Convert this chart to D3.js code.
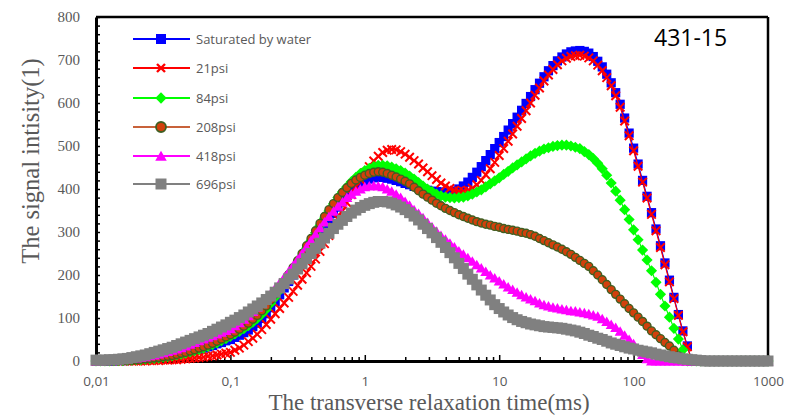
<!DOCTYPE html>
<html><head><meta charset="utf-8">
<script src="https://cdn.jsdelivr.net/npm/d3@7"></script>
<style>body{margin:0;background:#fff;} svg{display:block}</style>
</head><body><svg id="c" width="790" height="420"></svg>
<script>
// T2 grid (ms): mantissas within a decade and the decades
const mantissa = [1.000,1.080,1.166,1.259,1.359,1.468,1.585,1.711,1.848,1.995,2.154,2.326,2.512,2.712,2.929,3.162,3.415,3.687,3.981,4.299,4.642,5.012,5.412,5.843,6.310,6.813,7.356,7.943,8.577,9.261];
const decades = [0.01,0.1,1,10,100];

const seriesNames = ["Saturated by water","21psi","84psi","208psi","418psi","696psi"];

const saturated = [
0,0,0,0,0,1,1,1,2,2,
3,4,5,6,8,9,11,13,15,17,
19,22,25,27,30,33,36,40,43,47,
50,55,60,66,72,80,88,99,110,124,
138,154,170,185,200,215,230,246,262,278,
295,312,328,343,358,372,385,396,405,412,
418,423,426,428,427,425,423,420,417,413,
410,406,403,400,397,395,394,393,392,393,
395,400,407,416,427,439,452,466,480,494,
508,522,537,552,567,583,599,615,631,646,
661,675,687,698,707,714,719,721,722,720,
716,708,697,684,667,647,624,597,565,530,
495,458,420,383,345,307,268,228,188,148,
108,70,35,0,0,0,0,0,0,0,
0,0,0,0,0,0,0,0,0,0,
0];
const psi21 = [
0,0,0,0,0,0,0,0,0,0,
0,0,1,1,1,2,2,3,3,4,
5,6,7,8,9,11,12,14,16,18,
20,25,30,37,45,53,62,73,85,97,
110,122,135,148,162,176,190,205,220,237,
255,273,292,311,330,349,368,387,405,422,
438,452,465,476,485,490,492,491,487,481,
474,466,458,449,440,431,422,414,407,401,
397,395,395,397,402,410,420,433,447,462,
478,494,511,528,546,564,582,600,618,635,
651,665,678,689,698,704,708,710,711,709,
705,698,688,675,659,640,617,590,558,524,
489,453,416,379,341,303,264,224,184,145,
106,68,33,0,0,0,0,0,0,0,
0,0,0,0,0,0,0,0,0,0,
0];
const psi84 = [
0,0,0,0,1,1,1,2,2,3,
3,4,5,6,7,9,10,12,14,16,
18,21,24,27,30,34,38,42,47,52,
57,63,69,75,82,90,99,109,120,134,
148,164,180,196,212,228,245,262,280,298,
315,332,349,365,380,393,405,417,427,436,
443,448,452,455,455,454,451,447,443,437,
430,423,415,407,400,394,388,384,381,380,
379,380,381,384,388,393,398,405,412,419,
426,434,441,449,456,463,470,477,483,488,
493,496,499,501,502,502,500,497,494,487,
480,471,460,447,432,414,395,374,352,329,
305,282,258,235,210,183,155,128,102,76,
51,26,0,0,0,0,0,0,0,0,
0,0,0,0,0,0,0,0,0,0,
0];
const psi208 = [
0,0,0,0,1,1,1,2,2,3,
4,5,6,7,8,10,11,13,15,18,
20,23,26,30,33,37,41,46,51,56,
61,67,74,81,88,97,106,117,128,142,
156,170,185,201,217,233,250,268,285,303,
320,336,352,366,380,392,403,413,421,427,
432,436,439,440,439,436,432,428,423,418,
412,404,396,388,381,374,367,361,355,350,
345,340,336,332,328,324,321,318,316,313,
311,308,306,304,302,299,297,294,290,285,
280,275,270,265,260,254,248,241,234,227,
220,210,200,189,178,166,155,144,133,122,
112,102,92,81,70,61,52,43,35,25,
12,0,0,0,0,0,0,0,0,0,
0,0,0,0,0,0,0,0,0,0,
0];
const psi418 = [
0,0,1,1,2,3,4,5,6,7,
9,10,12,14,16,19,22,25,28,31,
35,39,43,47,51,55,59,63,67,71,
75,82,89,97,105,115,125,135,145,157,
170,182,195,208,222,236,250,265,280,295,
310,323,336,348,360,370,380,388,395,400,
405,407,408,407,405,400,395,388,380,371,
362,352,343,333,322,312,302,292,283,274,
265,256,248,240,232,224,216,208,200,193,
186,179,172,166,160,154,149,144,140,135,
131,128,125,123,121,119,117,116,114,112,
110,107,104,98,92,85,78,69,60,50,
40,28,15,5,0,0,0,0,0,0,
0,0,0,0,0,0,0,0,0,0,
0,0,0,0,0,0,0,0,0,0,
0];
const psi696 = [
2,2,2,3,3,4,5,6,8,10,
12,14,17,20,23,26,29,32,36,40,
44,48,52,56,60,64,69,74,79,84,
90,95,101,107,114,121,128,135,143,151,
160,170,180,191,202,214,226,238,250,262,
274,286,297,308,318,327,336,344,351,357,
362,366,369,371,371,370,367,363,358,352,
345,337,328,318,308,298,287,276,264,252,
240,227,215,202,190,177,165,153,142,131,
122,114,107,101,96,92,89,86,84,82,
80,79,78,77,76,74,72,70,67,64,
60,57,53,50,46,42,39,36,33,30,
28,25,23,21,19,16,14,12,10,8,
7,5,4,3,2,1,0,0,0,0,
0,0,0,0,0,0,0,0,0,0,
0];

const xTickValues = [0.01,0.1,1,10,100,1000];
const xTickLabels = ["0,01","0,1","1","10","100","1000"];
const xMinorSteps = [2,3,4,5,6,7,8,9];
const yTickValues = [0,100,200,300,400,500,600,700,800];
const sampleLabel = "431-15";

const t2 = decades.flatMap(d => mantissa.map(m => +(d*m).toPrecision(4))).concat([1000]);

const svg = d3.select("#c");
const x = d3.scaleLog().domain([0.01,1000]).range([96,768]);
const y = d3.scaleLinear().domain([0,800]).range([361,17]);
const gray = "#595959";

// frame top / right
svg.append("line").attr("x1",96).attr("x2",768).attr("y1",17).attr("y2",17).attr("stroke","#000").attr("stroke-width",2.5);
svg.append("line").attr("x1",768).attr("x2",768).attr("y1",17).attr("y2",361).attr("stroke","#000").attr("stroke-width",2.5);

// Y axis
const yAx = svg.append("g").attr("transform","translate(96,0)")
  .call(d3.axisLeft(y).tickValues(yTickValues).tickSize(0).tickPadding(16));
yAx.select(".domain").attr("stroke","#000").attr("stroke-width",3);
yAx.selectAll("text").attr("fill",gray).style("font-family","'Liberation Serif','Times New Roman',serif").style("font-size","15px");
const yMinor = svg.append("g").attr("transform","translate(96,0)")
  .call(d3.axisRight(y).tickValues(d3.range(0,801,20)).tickSize(4).tickFormat(""));
yMinor.select(".domain").remove();
yMinor.selectAll("line").attr("stroke","#000").attr("stroke-width",1.5);

// X axis
const xAx = svg.append("g").attr("transform","translate(0,361)")
  .call(d3.axisBottom(x).tickValues(xTickValues).tickFormat((d,i)=>xTickLabels[i]).tickSize(0).tickPadding(15));
xAx.select(".domain").attr("stroke","#000").attr("stroke-width",3);
xAx.selectAll("text").attr("fill",gray).style("font-family","'Open Sans',sans-serif").style("font-size","13.5px");
const xMinorVals = decades.flatMap(d => xMinorSteps.map(k => d*k));
const xMinor = svg.append("g").attr("transform","translate(0,361)")
  .call(d3.axisTop(x).tickValues(xMinorVals).tickSize(4).tickFormat(""));
xMinor.select(".domain").remove();
xMinor.selectAll("line").attr("stroke","#000").attr("stroke-width",1.5);
const xMajor = svg.append("g").attr("transform","translate(0,361)")
  .call(d3.axisTop(x).tickValues(xTickValues).tickSize(6).tickFormat(""));
xMajor.select(".domain").remove();
xMajor.selectAll("line").attr("stroke","#000").attr("stroke-width",1.5);

// axis titles
svg.append("text").attr("x",429).attr("y",410).attr("text-anchor","middle")
  .attr("fill",gray).style("font-family","'Liberation Serif','Times New Roman',serif").style("font-size","23px")
  .text("The transverse relaxation time(ms)");
svg.append("text").attr("transform","translate(39,161) rotate(-90)").attr("text-anchor","middle")
  .attr("fill",gray).style("font-family","'Liberation Serif','Times New Roman',serif").style("font-size","24.5px")
  .text("The signal intisity(1)");

// marker shapes
const symX = {draw(ctx,size){const r=Math.sqrt(size)/2; ctx.moveTo(-r,-r);ctx.lineTo(r,r);ctx.moveTo(-r,r);ctx.lineTo(r,-r);}};
const symDiamond = {draw(ctx,size){const r=Math.sqrt(size/2); ctx.moveTo(0,-r);ctx.lineTo(r,0);ctx.lineTo(0,r);ctx.lineTo(-r,0);ctx.closePath();}};
const symTri = {draw(ctx,size){const s=Math.sqrt(size); ctx.moveTo(0,-s*0.5);ctx.lineTo(s*0.55,s*0.45);ctx.lineTo(-s*0.55,s*0.45);ctx.closePath();}};

const seriesValues = [saturated, psi21, psi84, psi208, psi418, psi696];
const styles = [
  {line:"#0000ff", type:d3.symbolSquare, size:85, lsize:100, fill:"#0000ff", stroke:"none", sw:0},
  {line:"#ff0000", type:symX, size:72, lsize:64, fill:"none", stroke:"#ff0000", sw:2},
  {line:"#00ff00", type:symDiamond, size:62, lsize:64, fill:"#00ff00", stroke:"none", sw:0},
  {line:"#c8623a", type:d3.symbolCircle, size:50, lsize:78, fill:"#d2400c", stroke:"#3f5f22", sw:1.4},
  {line:"#ff00ff", type:symTri, size:100, lsize:110, fill:"#ff00ff", stroke:"none", sw:0},
  {line:"#808080", type:d3.symbolSquare, size:121, lsize:121, fill:"#808080", stroke:"none", sw:0}
];

const line = d3.line().x((d,i)=>x(t2[i])).y(d=>y(d));
seriesValues.forEach((vals,k)=>{
  const st = styles[k];
  const g = svg.append("g");
  g.append("path").attr("d",line(vals)).attr("fill","none").attr("stroke",st.line).attr("stroke-width",1.2);
  g.selectAll("path.m").data(vals).join("path").attr("class","m")
    .attr("transform",(d,i)=>`translate(${x(t2[i])},${y(d)})`)
    .attr("d",d3.symbol(st.type,st.size))
    .attr("fill",st.fill).attr("stroke",st.stroke).attr("stroke-width",st.sw);
});

// legend
const legY = [39,68,98,127,156,184];
seriesNames.forEach((name,k)=>{
  const st = styles[k];
  const g = svg.append("g").attr("transform",`translate(0,${legY[k]})`);
  g.append("line").attr("x1",133).attr("x2",190).attr("y1",0).attr("y2",0).attr("stroke",st.line).attr("stroke-width",2);
  g.append("path").attr("transform","translate(161,0)").attr("d",d3.symbol(st.type,st.lsize))
    .attr("fill",st.fill).attr("stroke",st.stroke).attr("stroke-width",st.sw===0?0:st.sw+0.4);
  g.append("text").attr("x",196).attr("y",0).attr("dy","0.35em").attr("fill",gray)
    .style("font-family","'Open Sans',sans-serif").style("font-size","13px").text(name);
});

svg.append("text").attr("x",654).attr("y",46).attr("fill","#000")
  .style("font-family","'Open Sans',sans-serif").style("font-size","23px").text(sampleLabel);
</script></body></html>
